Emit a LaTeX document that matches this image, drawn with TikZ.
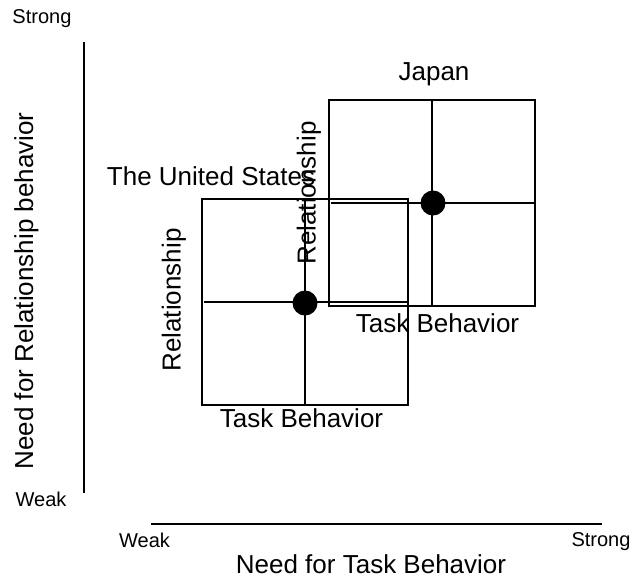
\documentclass[tikz,border=0pt]{standalone}
\usepackage{fontspec}
\setmainfont{Liberation Sans}

\begin{document}
\begin{tikzpicture}[x=0.02cm, y=-0.02cm]

	% ==========================================
	% 1. STYLES
	% ==========================================
	\tikzset{
		bigtext/.style={font=\fontsize{14.8}{16}\selectfont, inner sep=0pt},
		smalltext/.style={font=\fontsize{11.4}{13}\selectfont, inner sep=0pt},
		axisline/.style={line width=1.1pt},
		gridline/.style={line width=1pt},
		% box split into four quadrants
		quadrant/.pic={
			\draw[gridline] (-103,-103) rectangle (103,103);
			\draw[gridline] (0,-103) -- (0,103);
			\draw[gridline] (-101,0) -- (103,0);
		}
	}

	% fixed frame of the picture
	\useasboundingbox (0,0) rectangle (634,579);

	% ==========================================
	% 2. AXES
	% ==========================================
	\coordinate (ytop) at (84,42);
	\coordinate (ybot) at (84,493);
	\coordinate (xleft) at (151,524);
	\coordinate (xright) at (602,524);
	\draw[axisline] (ytop) -- (ybot);
	\draw[axisline] (xleft) -- (xright);

	% axis labels
	\node[smalltext] (ystrong) at (42,18.5) {Strong};
	\node[smalltext] (yweak) at (41,499) {Weak};
	\node[bigtext, rotate=90] (ylabel) at (26.5,291) {Need for Relationship behavior};
	\node[smalltext] (xweak) at (144.5,540.5) {Weak};
	\node[smalltext] (xstrong) at (601,541.5) {Strong};
	\node[bigtext] (xlabel) at (371,564) {Need for Task Behavior};

	% ==========================================
	% 3. THE UNITED STATES
	% ==========================================
	\pic at (305,302) {quadrant};
	\fill (305,303) circle (12.5);
	\node[bigtext] (us) at (211,176) {The United States};
	\node[bigtext, rotate=90] (usrel) at (174,300) {Relationship};
	\node[bigtext] (ustask) at (301.5,418) {Task Behavior};

	% ==========================================
	% 4. JAPAN
	% ==========================================
	\pic at (432,203) {quadrant};
	\fill (433,203) circle (12.5);
	\node[bigtext] (japan) at (434,74) {Japan};
	\node[bigtext, rotate=90] (jprel) at (309,193) {Relationship};
	\node[bigtext] (jptask) at (437.5,323) {Task Behavior};

\end{tikzpicture}
\end{document}
